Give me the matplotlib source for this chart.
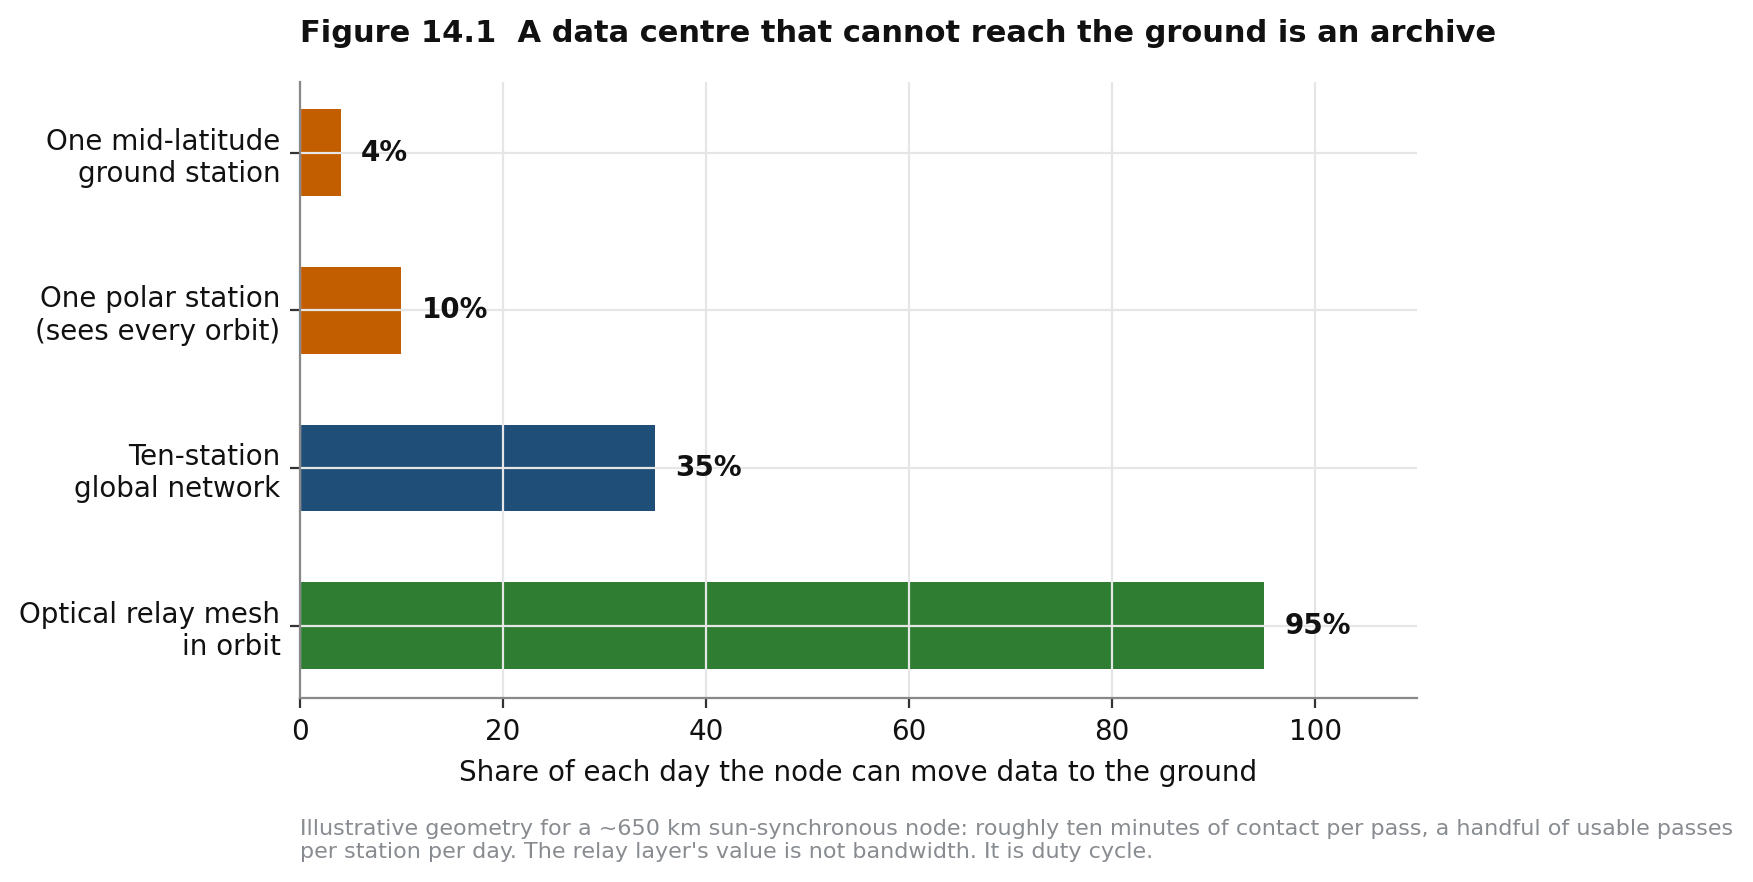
import matplotlib
matplotlib.use("Agg")
import matplotlib.pyplot as plt

categories = ["One mid-latitude\nground station",
              "One polar station\n(sees every orbit)",
              "Ten-station\nglobal network",
              "Optical relay mesh\nin orbit"]
values = [4, 10, 35, 95]
bar_colors = ["#c25e00", "#c25e00", "#1f4e79", "#2e7d32"]

title = "Figure 14.1  A data centre that cannot reach the ground is an archive"
xlabel = "Share of each day the node can move data to the ground"
note = ("Illustrative geometry for a ~650 km sun-synchronous node: roughly ten minutes of contact per pass, "
        "a handful of usable passes\nper station per day. The relay layer's value is not bandwidth. It is duty cycle.")

plt.rcParams['font.family'] = ['DejaVu Sans']
fig = plt.figure(figsize=(1753 / 200, 882 / 200), dpi=200)
ax = fig.add_axes([0.1711, 0.2085, 0.637, 0.6989])

ypos = list(range(len(categories)))
ax.barh(ypos, values, height=0.55, color=bar_colors, zorder=1)
for y, v in zip(ypos, values):
    ax.text(v + 2, y, f"{v}%", va="center", ha="left", fontsize=10,
            fontweight="bold", color="#111111")

ax.set_yticks(ypos)
ax.set_yticklabels(categories, fontsize=10, color="#111111")
ax.set_ylim(3.46, -0.45)
ax.set_xlim(0, 110)
ax.set_xticks([0, 20, 40, 60, 80, 100])
ax.tick_params(axis="x", labelsize=10, colors="#111111", color="#333333")
ax.tick_params(axis="y", color="#333333")
ax.set_xlabel(xlabel, fontsize=10, color="#111111", labelpad=5)

ax.grid(True, color="#e6e6e6", linewidth=0.8, zorder=2)
ax.set_axisbelow(False)
for s in ["top", "right"]:
    ax.spines[s].set_visible(False)
for s in ["left", "bottom"]:
    ax.spines[s].set_color("#888888")
    ax.spines[s].set_linewidth(0.8)
    ax.spines[s].set_zorder(3)

fig.text(0.1711, 0.962, title, fontsize=11, fontweight="bold", color="#111111",
         ha="left", va="center")
fig.text(0.1711, 0.071, note, fontsize=8, color="#888c90", ha="left", va="top",
         linespacing=1.15)

fig.savefig("out.png", dpi=200)
